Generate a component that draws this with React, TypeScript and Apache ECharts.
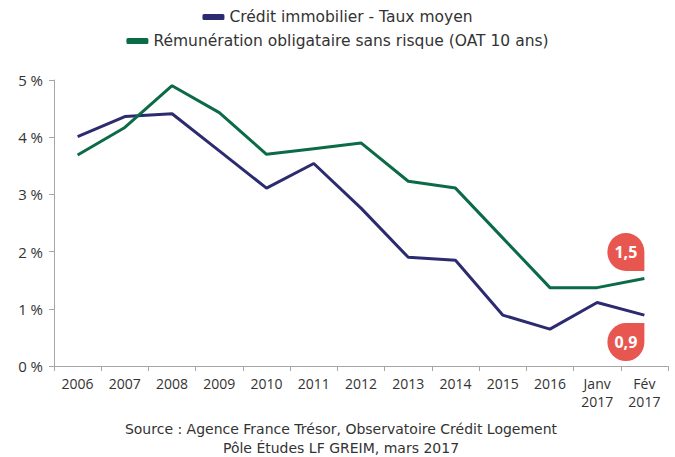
import React, { useEffect, useRef } from "react";
import * as echarts from "echarts";

const categories = ["2006", "2007", "2008", "2009", "2010", "2011", "2012", "2013", "2014", "2015", "2016", "Janv\n2017", "Fév\n2017"];
const creditValues = [4.01, 4.36, 4.41, 3.76, 3.11, 3.54, 2.76, 1.9, 1.85, 0.89, 0.645, 1.11, 0.89];
const oatValues = [3.69, 4.17, 4.9, 4.43, 3.7, 3.8, 3.9, 3.23, 3.11, 2.24, 1.37, 1.37, 1.53];
const yTicks = { min: 0, max: 5, interval: 1 };
const seriesNames = ["Crédit immobilier - Taux moyen", "Rémunération obligataire sans risque (OAT 10 ans)"];
const badgeLabels = ["0,9", "1,5"];
const sourceLines = ["Source : Agence France Trésor, Observatoire Crédit Logement", "Pôle Études LF GREIM, mars 2017"];

const FONT = "'Open Sans', 'Noto Sans', sans-serif";
const WIDE = "'DejaVu Sans', 'Open Sans', sans-serif";
const BLUE = "#2c2b6f";
const GREEN = "#0b6b47";
const RED = "#e8574f";
const TXT = "#333333";
const AXIS = "#a6a6a6";

// teardrop: circle with bottom-right square corner
const badgeDown = "path://M1 0A1 1 0 0 0 0 1A1 1 0 0 0 1 2L2 2L2 1A1 1 0 0 0 1 0Z";
// circle with top-right square corner
const badgeUp = "path://M1 0A1 1 0 0 0 0 1A1 1 0 0 0 1 2A1 1 0 0 0 2 1L2 0Z";

export default function App() {
  const ref = useRef<HTMLDivElement>(null);
  useEffect(() => {
    document.body.style.margin = "0";
    const chart = echarts.init(ref.current!, undefined, { renderer: "svg" });
    const last = categories[categories.length - 1];
    const badgeLabel = (t: string) => ({
      show: true,
      position: "inside" as const,
      formatter: t,
      color: "#ffffff",
      fontWeight: "bold" as const,
      fontSize: 16,
      fontFamily: FONT,
    });
    chart.setOption({
      animation: false,
      textStyle: { fontFamily: FONT, color: TXT },
      legend: [
        {
          data: [seriesNames[0]],
          top: 4,
          left: "center",
          icon: "roundRect",
          itemWidth: 22,
          itemHeight: 6,
          itemGap: 4,
          textStyle: { fontSize: 15.5, color: TXT, fontFamily: WIDE },
        },
        {
          data: [seriesNames[1]],
          top: 28,
          left: "center",
          icon: "roundRect",
          itemWidth: 22,
          itemHeight: 6,
          textStyle: { fontSize: 15.5, color: TXT, fontFamily: WIDE },
        },
      ],
      grid: { left: 54, right: 7, top: 80, bottom: 91, containLabel: false },
      xAxis: {
        type: "category",
        data: categories,
        boundaryGap: true,
        axisLine: { lineStyle: { color: AXIS, width: 1 } },
        axisTick: { show: true, length: 5, lineStyle: { color: AXIS } },
        axisLabel: { color: TXT, fontSize: 14, margin: 8, lineHeight: 18, interval: 0, fontFamily: FONT },
      },
      yAxis: {
        type: "value",
        min: yTicks.min,
        max: yTicks.max,
        interval: yTicks.interval,
        splitLine: { show: false },
        axisLine: { show: true, lineStyle: { color: AXIS, width: 1 } },
        axisTick: { show: true, length: 5, lineStyle: { color: AXIS } },
        axisLabel: { color: TXT, fontSize: 15, margin: 11, formatter: "{value} %", fontFamily: FONT },
      },
      series: [
        {
          name: seriesNames[0],
          type: "line",
          data: creditValues,
          showSymbol: false,
          symbol: "none",
          lineStyle: { color: BLUE, width: 3 },
          itemStyle: { color: BLUE },
          markPoint: {
            symbol: badgeUp,
            symbolSize: [37, 38],
            symbolOffset: [-18.5, 27],
            itemStyle: { color: RED },
            label: badgeLabel(badgeLabels[0]),
            data: [{ coord: [last, creditValues[creditValues.length - 1]] }],
          },
        },
        {
          name: seriesNames[1],
          type: "line",
          data: oatValues,
          showSymbol: false,
          symbol: "none",
          lineStyle: { color: GREEN, width: 3 },
          itemStyle: { color: GREEN },
          markPoint: {
            symbol: badgeDown,
            symbolSize: [37, 38],
            symbolOffset: [-18.5, -26.5],
            itemStyle: { color: RED },
            label: badgeLabel(badgeLabels[1]),
            data: [{ coord: [last, oatValues[oatValues.length - 1]] }],
          },
        },
      ],
      graphic: [
        {
          type: "text",
          x: 341,
          y: 419,
          style: {
            text: sourceLines.join("\n"),
            fill: TXT,
            font: `14px ${WIDE}`,
            textAlign: "center",
            lineHeight: 19,
          },
        },
      ],
    });
    return () => chart.dispose();
  }, []);
  return <div ref={ref} style={{ position: "absolute", left: 0, top: 0, width: 675, height: 457 }} />;
}
